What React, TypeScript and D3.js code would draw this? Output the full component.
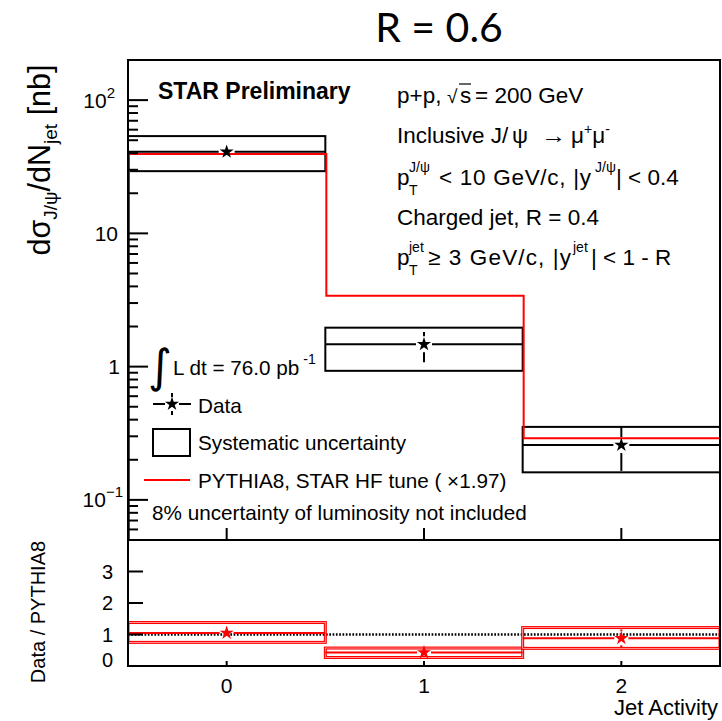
import React from "react";
import * as d3 from "d3";

// ---------- data ----------
const categories = [0, 1, 2];
const binHalfWidth = 0.5;
const dataValues = [40.9, 1.47, 0.258];
const dataStatLow = [36.5, 1.08, 0.165];
const dataStatHigh = [45.5, 1.82, 0.355];
const dataSysLow = [29.3, 0.93, 0.161];
const dataSysHigh = [53.7, 1.96, 0.353];
const pythiaValues = [39.4, 3.4, 0.29];
const ratioValues = [1.05, 0.43, 0.88];
const ratioStatLow = [0.9, 0.32, 0.6];
const ratioStatHigh = [1.2, 0.53, 1.16];
const ratioSysLow = [0.75, 0.27, 0.56];
const ratioSysHigh = [1.38, 0.57, 1.22];
const xTicks = [0, 1, 2];
const yMainTicks = [0.1, 1, 10, 100];
const yRatioTicks = [0, 1, 2, 3];

// ---------- layout ----------
const W = 722;
const H = 721;
const L = 128;
const R = 720;
const TOP = 60;
const MID = 540;
const BOT = 666;
const FONT = "'Liberation Sans', Arial, Helvetica, sans-serif";
const RED = "#ff0000";

const starPath = d3.symbol(d3.symbolStar, 62)() as string;

function ErrorCross({ cx, cy, xl, xr, yt, yb, gap, color }: any) {
  const segs: [number, number, number, number][] = [];
  if (cx - gap > xl) segs.push([xl, cy, cx - gap, cy]);
  if (cx + gap < xr) segs.push([cx + gap, cy, xr, cy]);
  if (yt < cy - gap) segs.push([cx, yt, cx, cy - gap]);
  if (yb > cy + gap) segs.push([cx, cy + gap, cx, yb]);
  return (
    <g>
      {segs.map((s, i) => (
        <line key={i} x1={s[0]} y1={s[1]} x2={s[2]} y2={s[3]} stroke={color} strokeWidth={2} />
      ))}
      <path d={starPath} transform={`translate(${cx},${cy})`} fill={color} />
    </g>
  );
}

export default function App() {
  const x = d3.scaleLinear().domain([-0.5, 2.5]).range([L, R]);
  const y = d3.scaleLog().domain([0.05, 200]).range([MID, TOP]);
  const yr = d3.scaleLinear().domain([0, 4]).range([BOT, MID]);

  // minor log ticks
  const minor: number[] = [];
  for (let e = -2; e <= 2; e++) {
    for (let m = 2; m <= 9; m++) {
      const v = m * Math.pow(10, e);
      if (v >= 0.05 && v <= 200) minor.push(v);
    }
  }

  // PYTHIA step path
  const pts: [number, number][] = [[x(-0.5), y(0.05)]];
  categories.forEach((c, i) => {
    pts.push([x(c - binHalfWidth), y(pythiaValues[i])]);
    pts.push([x(c + binHalfWidth), y(pythiaValues[i])]);
  });
  pts.push([x(2.5), y(0.05)]);
  const pythiaPath = d3.line()(pts) as string;

  const yLabels: Record<number, { base: string; exp?: string; dx: number }> = {
    100: { base: "10", exp: "2", dx: -13 },
    10: { base: "10", dx: -10 },
    1: { base: "1", dx: -8 },
    0.1: { base: "10", exp: "\u22121", dx: -5 },
  };

  const FS = 22.5;

  return (
    <svg
      width={W}
      height={H}
      style={{ position: "absolute", left: 0, top: 0, background: "#fff" }}
      fontFamily={FONT}
    >
      <rect x={0} y={0} width={W} height={H} fill="#fff" />
      <defs>
        <clipPath id="upper">
          <rect x={L} y={TOP} width={R - L} height={MID - TOP} />
        </clipPath>
        <clipPath id="lower">
          <rect x={L} y={MID} width={R - L} height={BOT - MID} />
        </clipPath>
      </defs>

      {/* title */}
      <text x={439} y={42} fontFamily="Lato, 'Open Sans', sans-serif" fontSize={41} textAnchor="middle">
        R = 0.6
      </text>

      {/* ---------- upper panel ---------- */}
      <g clipPath="url(#upper)">
        {categories.map((c, i) => (
          <rect
            key={"sys" + i}
            x={x(c - binHalfWidth)}
            y={y(dataSysHigh[i])}
            width={x(c + binHalfWidth) - x(c - binHalfWidth)}
            height={y(dataSysLow[i]) - y(dataSysHigh[i])}
            fill="none"
            stroke="#000"
            strokeWidth={2}
          />
        ))}
        <path d={pythiaPath} fill="none" stroke={RED} strokeWidth={2} transform="translate(1,0)" />
        {categories.map((c, i) => (
          <ErrorCross
            key={"d" + i}
            cx={x(c)}
            cy={y(dataValues[i])}
            xl={x(c - binHalfWidth)}
            xr={x(c + binHalfWidth)}
            yt={y(dataStatHigh[i])}
            yb={y(dataStatLow[i])}
            gap={8}
            color="#000"
          />
        ))}
      </g>

      {/* upper frame */}
      <rect x={L} y={TOP} width={R - L} height={MID - TOP} fill="none" stroke="#000" strokeWidth={2} />
      {yMainTicks.map((t) => (
        <line key={"ym" + t} x1={L} x2={L + 20} y1={y(t)} y2={y(t)} stroke="#000" strokeWidth={2} />
      ))}
      {minor.map((t) => (
        <line key={"yn" + t} x1={L} x2={L + 10} y1={y(t)} y2={y(t)} stroke="#000" strokeWidth={2} />
      ))}
      {xTicks.map((t) => (
        <line key={"xu" + t} x1={x(t)} x2={x(t)} y1={MID} y2={MID - 12} stroke="#000" strokeWidth={2} />
      ))}
      {yMainTicks.map((t) => {
        const lab = yLabels[t];
        return (
          <text key={"yl" + t} x={L + lab.dx} y={y(t) + 7.5} fontSize={21} textAnchor="end">
            {lab.base}
            {lab.exp && (
              <tspan dy={-10} fontSize={15}>
                {lab.exp}
              </tspan>
            )}
          </text>
        );
      })}

      {/* y title upper */}
      <text transform="translate(50,160) rotate(-90)" fontSize={30.5} textAnchor="middle">
        d{"\u03c3"}
        <tspan dy={7} fontSize={19}>J/{"\u03c8"}</tspan>
        <tspan dy={-7}>/dN</tspan>
        <tspan dy={7} fontSize={19}>jet</tspan>
        <tspan dy={-7}> [nb]</tspan>
      </text>

      {/* STAR Preliminary */}
      <text x={158} y={99} fontSize={23} fontWeight="bold">
        STAR Preliminary
      </text>

      {/* info block */}
      <g fontSize={FS}>
        <text x={397} y={103}>p+p,</text>
        <text x={447} y={103} fontSize={19}>{"\u221a"}</text>
        <line x1={459} x2={471} y1={84} y2={84} stroke="#000" strokeWidth={1.2} />
        <text x={460} y={103}>s</text>
        <text x={475} y={103}>= 200 GeV</text>

        <text x={397} y={143}>Inclusive J/</text>
        <text x={512} y={143}>{"\u03c8"}</text>
        <text x={541} y={143} textLength={25} lengthAdjust="spacingAndGlyphs">{"\u2192"}</text>
        <text x={571} y={143}>
          {"\u03bc"}
          <tspan dy={-9} fontSize={14}>+</tspan>
          <tspan dy={9}>{"\u03bc"}</tspan>
          <tspan dy={-9} fontSize={14}>-</tspan>
        </text>

        <text x={397} y={185}>p</text>
        <text x={409} y={172} fontSize={14}>J/{"\u03c8"}</text>
        <text x={409} y={195} fontSize={14}>T</text>
        <text x={439} y={185} textLength={152} lengthAdjust="spacing">{"< 10 GeV/c, |y"}</text>
        <text x={595} y={172} fontSize={14}>J/{"\u03c8"}</text>
        <text x={616} y={185}>{"| < 0.4"}</text>

        <text x={397} y={225}>Charged jet, R = 0.4</text>

        <text x={397} y={265}>p</text>
        <text x={409} y={252} fontSize={14}>jet</text>
        <text x={409} y={275} fontSize={14}>T</text>
        <text x={428} y={265} textLength={143} lengthAdjust="spacing">{"\u2265 3 GeV/c, |y"}</text>
        <text x={573} y={252} fontSize={14}>jet</text>
        <text x={591} y={265}>{"| < 1 - R"}</text>
      </g>

      {/* legend */}
      <g fontSize={20.7}>
        <text x={148} y={382} fontSize={46} fontFamily="'DejaVu Sans', sans-serif">{"\u222b"}</text>
        <text x={173} y={375}>
          L dt = 76.0 pb
          <tspan dx={4} dy={-11} fontSize={14}>-1</tspan>
        </text>
        <ErrorCross cx={172} cy={404} xl={153} xr={191} yt={393} yb={415} gap={7} color="#000" />
        <text x={198} y={413}>Data</text>
        <rect x={153} y={429} width={37} height={27} fill="none" stroke="#000" strokeWidth={2} />
        <text x={198} y={450}>Systematic uncertainty</text>
        <line x1={144} x2={190} y1={480} y2={480} stroke={RED} strokeWidth={2} />
        <text x={198} y={488}>PYTHIA8, STAR HF tune ( {"\u00d7"}1.97)</text>
        <text x={152} y={520}>8% uncertainty of luminosity not included</text>
      </g>

      {/* ---------- lower panel ---------- */}
      <g clipPath="url(#lower)">
        <line
          x1={L}
          x2={R}
          y1={yr(1)}
          y2={yr(1)}
          stroke="#000"
          strokeWidth={2.5}
          strokeDasharray="1.7 1.6"
        />
        {categories.map((c, i) => (
          <g key={"rs" + i}>
            <rect
              x={x(c - binHalfWidth)}
              y={yr(ratioSysHigh[i])}
              width={x(c + binHalfWidth) - x(c - binHalfWidth)}
              height={yr(ratioSysLow[i]) - yr(ratioSysHigh[i])}
              fill="none"
              stroke={RED}
              strokeWidth={3}
            />
            <rect
              x={x(c - binHalfWidth)}
              y={yr(ratioSysHigh[i])}
              width={x(c + binHalfWidth) - x(c - binHalfWidth)}
              height={yr(ratioSysLow[i]) - yr(ratioSysHigh[i])}
              fill="none"
              stroke="#ffb4b4"
              strokeWidth={0.8}
            />
          </g>
        ))}
        {categories.map((c, i) => (
          <ErrorCross
            key={"r" + i}
            cx={x(c)}
            cy={yr(ratioValues[i])}
            xl={x(c - binHalfWidth)}
            xr={x(c + binHalfWidth)}
            yt={yr(ratioStatHigh[i])}
            yb={yr(ratioStatLow[i])}
            gap={7}
            color={RED}
          />
        ))}
      </g>
      <rect x={L} y={MID} width={R - L} height={BOT - MID} fill="none" stroke="#000" strokeWidth={2} />
      {yRatioTicks.map((t) => (
        <line key={"ry" + t} x1={L} x2={L + 15} y1={yr(t)} y2={yr(t)} stroke="#000" strokeWidth={2} />
      ))}
      {yRatioTicks.map((t) => (
        <text key={"ryl" + t} x={L - 15} y={Math.min(yr(t), BOT - 6) + 7} fontSize={20} textAnchor="end">
          {t}
        </text>
      ))}
      {xTicks.map((t) => (
        <line key={"rx" + t} x1={x(t)} x2={x(t)} y1={BOT} y2={BOT - 5} stroke="#000" strokeWidth={2} />
      ))}
      {xTicks.map((t) => (
        <text key={"rxl" + t} x={x(t)} y={693} fontSize={21} textAnchor="middle">
          {t}
        </text>
      ))}
      <text x={718} y={715} fontSize={22} textAnchor="end">
        Jet Activity
      </text>
      <text transform="translate(45,612) rotate(-90)" fontSize={20} textAnchor="middle">
        Data / PYTHIA8
      </text>
    </svg>
  );
}
